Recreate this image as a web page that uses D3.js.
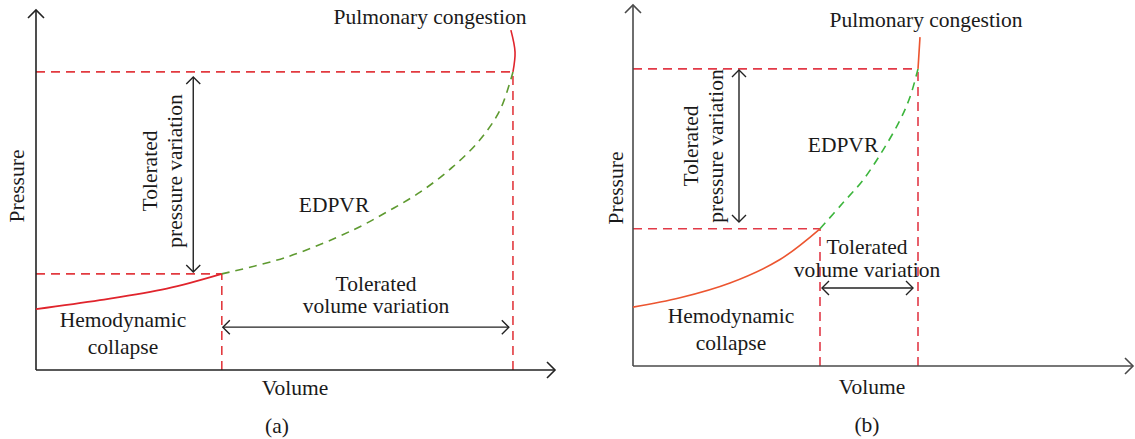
<!DOCTYPE html>
<html>
<head>
<meta charset="utf-8">
<script src="https://cdn.jsdelivr.net/npm/d3@7"></script>
<style>
  body { margin: 0; background: #fff; }
</style>
</head>
<body>
<svg id="chart" width="1135" height="439"></svg>
<script>
// data units: volume 0..100 (x), pressure 0..100 (y)
const panelNames = ["(a)", "(b)"];

// panel (a)
const collapseA = [[0, 16.9], [12.3, 19.4], [25.2, 22.6], [35.8, 26.7]];
const edpvrA = [[35.8, 26.7], [48.4, 31.4], [61.1, 38.9], [67.6, 43.9], [74.0, 49.4], [80.3, 56.4], [85.5, 63.9], [89.4, 72.2], [91.9, 82.8]];
const congestionA = [[91.9, 82.8], [92.3, 88.3], [91.5, 94.4]];
const lowA = [35.8, 26.7];    // volume, pressure
const highA = [91.9, 82.8];
const pressureArrowA = [30.3, 27.2, 81.4];  // volume, pressure from, pressure to
const volumeArrowA = [11.9, 36.0, 91.1];    // pressure, volume from, volume to

// panel (b)
const collapseB = [[0, 16.3], [9.4, 18.9], [19.4, 23.0], [29.4, 29.5], [37.4, 38.0]];
const edpvrB = [[37.4, 38.0], [42.0, 45.2], [46.0, 51.5], [50.0, 59.8], [53.4, 68.1], [55.4, 74.5], [57.0, 82.3]];
const congestionB = [[57.0, 82.3], [57.4, 91.1]];
const lowB = [37.4, 38.0];
const highB = [57.0, 82.3];
const pressureArrowB = [21.2, 39.9, 82.0];
const volumeArrowB = [21.6, 37.8, 56.0];

const FONT = "'Liberation Serif', 'Times New Roman', Tinos, 'DejaVu Serif', 'Noto Serif', serif";
const FONT_SIZE = 21.5;

const svg = d3.select("#chart");

const panels = [
  {
    name: panelNames[0], x0: 36, x1: 555, y0: 370, y1: 10,
    collapse: collapseA, edpvr: edpvrA, congestion: congestionA,
    low: lowA, high: highA, pArrow: pressureArrowA, vArrow: volumeArrowA,
    axisColor: "#222", redDash: "#e23a3f", curveColor: "#e0242c", greenColor: "#5e9a30",
    labels: {
      pulm: [430, 24], edpvr: [334, 212], hemo: [123, 327], collapse: [123, 354],
      tol1: [376, 291], tol2: [376, 313], vol: [295, 395], name: [277, 433],
      press: [24, 186], ptol1: [157, 171], ptol2: [182, 171]
    }
  },
  {
    name: panelNames[1], x0: 633, x1: 1133, y0: 366, y1: 5,
    collapse: collapseB, edpvr: edpvrB, congestion: congestionB,
    low: lowB, high: highB, pArrow: pressureArrowB, vArrow: volumeArrowB,
    axisColor: "#4a4a4a", redDash: "#e23a48", curveColor: "#ec5530", greenColor: "#3cb53c",
    labels: {
      pulm: [926, 27], edpvr: [843, 152], hemo: [731, 323], collapse: [731, 350],
      tol1: [867, 254], tol2: [867, 277], vol: [872, 394], name: [867, 432],
      press: [623, 188], ptol1: [698, 146], ptol2: [723, 146]
    }
  }
];

const chevron = (x, y, dir, s = 8) => {
  // open arrow head pointing in dir
  if (dir === "up") return `M${x - s},${y + s}L${x},${y}L${x + s},${y + s}`;
  if (dir === "down") return `M${x - s},${y - s}L${x},${y}L${x + s},${y - s}`;
  if (dir === "right") return `M${x - s},${y - s}L${x},${y}L${x - s},${y + s}`;
  return `M${x + s},${y - s}L${x},${y}L${x + s},${y + s}`;
};

panels.forEach((p) => {
  const x = d3.scaleLinear().domain([0, 100]).range([p.x0, p.x1]);
  const y = d3.scaleLinear().domain([0, 100]).range([p.y0, p.y1]);
  const g = svg.append("g");

  const line = d3.line().x((d) => x(d[0])).y((d) => y(d[1]));

  // red dashed guides
  const dash = g.append("g").attr("stroke", p.redDash).attr("stroke-width", 1.6)
    .attr("stroke-dasharray", "9,6").attr("fill", "none");
  [p.low, p.high].forEach((t) => {
    dash.append("path").attr("d", line([[0, t[1]], [t[0], t[1]]]));
    dash.append("path").attr("d", line([[t[0], 0], [t[0], t[1]]]));
  });

  // axes
  const ax = g.append("g").attr("stroke", p.axisColor).attr("stroke-width", 1.6).attr("fill", "none");
  ax.append("path").attr("d", line([[0, 0], [0, 100]]));
  ax.append("path").attr("d", line([[0, 0], [100, 0]]));
  ax.append("path").attr("d", chevron(x(0), y(100), "up"));
  ax.append("path").attr("d", chevron(x(100), y(0), "right"));

  // curves
  const smooth = d3.line().x((d) => x(d[0])).y((d) => y(d[1])).curve(d3.curveCatmullRom.alpha(0.5));
  g.append("path").attr("fill", "none").attr("stroke", p.curveColor).attr("stroke-width", 1.6)
    .attr("d", smooth(p.collapse));
  g.append("path").attr("fill", "none").attr("stroke", p.greenColor).attr("stroke-width", 1.6)
    .attr("stroke-dasharray", "8,6")
    .attr("d", smooth(p.edpvr));
  g.append("path").attr("fill", "none").attr("stroke", p.curveColor).attr("stroke-width", 1.6)
    .attr("d", smooth(p.congestion));

  // tolerance arrows
  const ar = g.append("g").attr("stroke", "#222").attr("stroke-width", 1.4).attr("fill", "none");
  const [pv, pa, pb] = p.pArrow;
  ar.append("path").attr("d", `M${x(pv)},${y(pa)}V${y(pb)}`);
  ar.append("path").attr("d", chevron(x(pv), y(pb), "up", 7));
  ar.append("path").attr("d", chevron(x(pv), y(pa), "down", 7));
  const [vp, va, vb] = p.vArrow;
  ar.append("path").attr("d", `M${x(va)},${y(vp)}H${x(vb)}`);
  ar.append("path").attr("d", chevron(x(va), y(vp), "left", 7));
  ar.append("path").attr("d", chevron(x(vb), y(vp), "right", 7));

  // labels
  const L = p.labels;
  const txt = (pos, s, anchor = "middle") => g.append("text").attr("x", pos[0]).attr("y", pos[1])
    .attr("font-family", FONT).attr("font-size", FONT_SIZE).attr("fill", "#1a1a1a")
    .attr("text-anchor", anchor).text(s);
  txt(L.pulm, "Pulmonary congestion");
  txt(L.edpvr, "EDPVR");
  txt(L.hemo, "Hemodynamic");
  txt(L.collapse, "collapse");
  txt(L.tol1, "Tolerated");
  txt(L.tol2, "volume variation");
  txt(L.vol, "Volume");
  txt(L.name, p.name);
  const rot = (pos, s) => g.append("text")
    .attr("transform", `translate(${pos[0]},${pos[1]}) rotate(-90)`)
    .attr("font-family", FONT).attr("font-size", FONT_SIZE).attr("fill", "#1a1a1a")
    .attr("text-anchor", "middle").text(s);
  rot(L.press, "Pressure");
  rot(L.ptol1, "Tolerated");
  rot(L.ptol2, "pressure variation");
});
</script>
</body>
</html>
